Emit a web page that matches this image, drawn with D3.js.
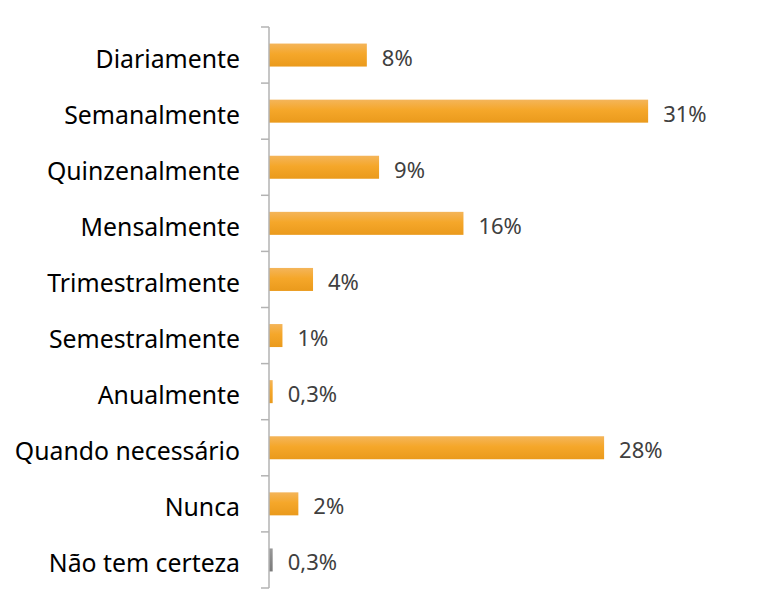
<!DOCTYPE html>
<html>
<head>
<meta charset="utf-8">
<script src="https://cdn.jsdelivr.net/npm/d3@7"></script>
<style>
  html, body { margin: 0; padding: 0; background: #fff; }
  svg { display: block; font-family: "Noto Sans", "Open Sans", sans-serif; }
</style>
</head>
<body>
<svg id="chart" width="782" height="616"></svg>
<script>
"use strict";
// Frequency categories, top to bottom
const categories = [
  'Diariamente', 'Semanalmente', 'Quinzenalmente', 'Mensalmente', 'Trimestralmente',
  'Semestralmente', 'Anualmente', 'Quando necessário', 'Nunca', 'Não tem certeza'
];
// Share of respondents (%)
const values = [8, 31, 9, 15.9, 3.6, 1.1, 0.3, 27.4, 2.4, 0.3];
// Printed data labels
const valueLabels = ['8%', '31%', '9%', '16%', '4%', '1%', '0,3%', '28%', '2%', '0,3%'];
// Which bars are drawn in grey
const greyBars = ['Não tem certeza'];

const MARGIN = { top: 27, bottom: 28, left: 269 };
const HEIGHT = 616;
const BAR_RATIO = 0.41;

const svg = d3.select('#chart');

// Gradients (light top, darker bottom)
const defs = svg.append('defs');
function addGradient(id, stops) {
  const g = defs.append('linearGradient')
    .attr('id', id)
    .attr('x1', 0).attr('y1', 0).attr('x2', 0).attr('y2', 1);
  stops.forEach(s => g.append('stop').attr('offset', s[0]).attr('stop-color', s[1]));
}
addGradient('orange', [[0, '#F4B55A'], [0.45, '#F5A72A'], [1, '#EA9A1C']]);
addGradient('grey', [[0, '#9A9A9A'], [0.5, '#888888'], [1, '#7A7A7A']]);

// Scales
const x = d3.scaleLinear()
  .domain([0, 40])
  .range([MARGIN.left, MARGIN.left + 489.2]);

const y = d3.scaleBand()
  .domain(categories)
  .range([MARGIN.top, HEIGHT - MARGIN.bottom])
  .padding(0);

const bw = y.bandwidth();
const bh = bw * BAR_RATIO;

// Bars
svg.append('g')
  .selectAll('rect')
  .data(categories)
  .join('rect')
  .attr('x', x(0))
  .attr('y', d => y(d) + (bw - bh) / 2)
  .attr('width', (d, i) => x(values[i]) - x(0))
  .attr('height', bh)
  .attr('fill', d => greyBars.includes(d) ? 'url(#grey)' : 'url(#orange)');

// Axis line and boundary ticks (Excel-style, between categories)
const axis = svg.append('g')
  .attr('stroke', '#B3B3B3')
  .attr('stroke-width', 1.5);
axis.append('line')
  .attr('x1', x(0)).attr('x2', x(0))
  .attr('y1', y.range()[0]).attr('y2', y.range()[1]);
const boundaries = categories.map(d => y(d)).concat([y.range()[1]]);
axis.selectAll('line.tick')
  .data(boundaries)
  .join('line')
  .attr('class', 'tick')
  .attr('x1', x(0) - 8).attr('x2', x(0))
  .attr('y1', d => d).attr('y2', d => d);

// Category labels
svg.append('g')
  .selectAll('text')
  .data(categories)
  .join('text')
  .attr('x', 240)
  .attr('y', d => y(d) + bw / 2 + 12.5)
  .attr('text-anchor', 'end')
  .attr('font-size', '24.8px')
  .attr('fill', '#000')
  .text(d => d);

// Data labels
svg.append('g')
  .selectAll('text')
  .data(categories)
  .join('text')
  .attr('x', (d, i) => x(values[i]) + 15)
  .attr('y', d => y(d) + bw / 2 + 10.5)
  .attr('text-anchor', 'start')
  .attr('font-size', '22px')
  .attr('fill', '#404040')
  .text((d, i) => valueLabels[i]);
</script>
</body>
</html>
